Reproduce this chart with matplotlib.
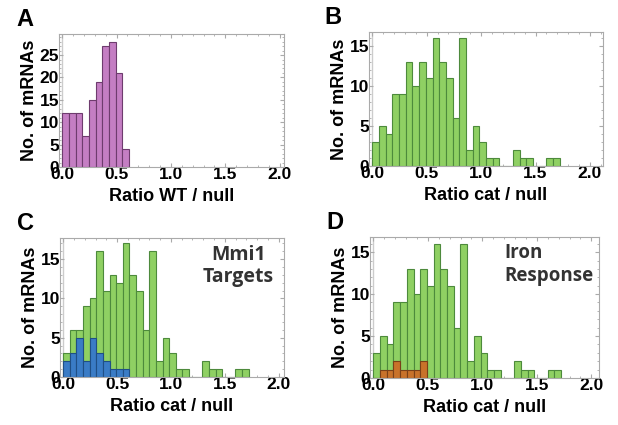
import matplotlib.pyplot as plt
import numpy as np

# bin counts (bins start at 0, equal width)
wt_counts = [12, 12, 12, 7, 15, 19, 27, 28, 21, 4]
cat_counts = [3, 5, 4, 9, 9, 13, 10, 13, 11, 16, 13, 11, 6, 16, 2, 5, 3, 1, 1,
              0, 0, 2, 1, 1, 0, 0, 1, 1]
cat_counts_c = [3, 6, 6, 9, 10, 16, 11, 13, 12, 17, 13, 11, 6, 16, 2, 5, 3, 1, 1,
                0, 0, 2, 1, 1, 0, 0, 1, 1]
mmi1_counts = [2, 3, 5, 2, 5, 3, 2, 1, 1, 1]
iron_counts = [0, 1, 1, 2, 1, 1, 1, 2]

xticks = [0.0, 0.5, 1.0, 1.5, 2.0]
bin_width = 0.0615

purple = '#c47ec3'
purple_edge = '#6e3c6e'
green = '#8fd063'
green_edge = '#4d8a3c'
blue = '#3a7cc6'
blue_edge = '#1f4f85'
orange = '#c8722a'
orange_edge = '#7a4018'

plt.rcParams['font.family'] = ['Liberation Sans', 'DejaVu Sans']

fig = plt.figure(figsize=(6.18, 4.25), dpi=100)
W, H = 618, 425


def make_ax(left, top, right, bottom):
    return fig.add_axes([left / W, 1 - bottom / H, (right - left) / W, (bottom - top) / H])


def hist(ax, counts, color, edge):
    edges = np.arange(len(counts)) * bin_width
    ax.bar(edges, counts, width=bin_width, align='edge', color=color,
           edgecolor=edge, linewidth=0.8, zorder=2)


def style(ax, xmax, ymax, yticks, xlabel, letter):
    ax.set_xlim(-0.03, xmax)
    ax.set_ylim(0, ymax)
    ax.set_xticks(xticks)
    ax.set_xticklabels(['%.1f' % t for t in xticks])
    ax.set_yticks(yticks)
    ax.axvline(0, color='#cccccc', linewidth=1, zorder=1)
    for s in ax.spines.values():
        s.set_color('#aaaaaa')
        s.set_linewidth(0.8)
    ax.minorticks_on()
    ax.tick_params(which='both', direction='in', color='#aaaaaa', top=True, right=True)
    ax.tick_params(which='major', length=3, pad=0, labelsize=12.5)
    ax.tick_params(which='minor', length=1.5)
    for lab in ax.get_xticklabels() + ax.get_yticklabels():
        lab.set_fontweight('bold')
    ax.set_xlabel(xlabel, fontsize=13, fontweight='bold', labelpad=4)
    ax.set_ylabel('No. of mRNAs', fontsize=13, fontweight='bold', labelpad=1)
    ax.text(-0.19, 1.02, letter, transform=ax.transAxes, fontsize=17,
            fontweight='bold', va='bottom', ha='left')


axA = make_ax(59, 34, 284, 167)
hist(axA, wt_counts, purple, purple_edge)
style(axA, 2.04, 29.7, [0, 5, 10, 15, 20, 25], 'Ratio WT / null', 'A')

axB = make_ax(369, 32, 603, 166)
hist(axB, cat_counts, green, green_edge)
style(axB, 2.12, 16.8, [0, 5, 10, 15], 'Ratio cat / null', 'B')

axC = make_ax(60, 238, 284, 377)
hist(axC, cat_counts_c, green, green_edge)
hist(axC, mmi1_counts, blue, blue_edge)
style(axC, 2.05, 17.7, [0, 5, 10, 15], 'Ratio cat / null', 'C')
axC.text(0.795, 0.95, 'Mmi1\nTargets', transform=axC.transAxes, fontsize=14,
         fontweight='bold', color='#333333', ha='center', va='top',
         family=['Open Sans', 'DejaVu Sans'], linespacing=1.15)

axD = make_ax(370, 237, 599, 378)
hist(axD, cat_counts, green, green_edge)
hist(axD, iron_counts, orange, orange_edge)
style(axD, 2.07, 16.8, [0, 5, 10, 15], 'Ratio cat / null', 'D')
axD.text(0.585, 0.955, 'Iron\nResponse', transform=axD.transAxes, fontsize=13.5,
         fontweight='bold', color='#333333', ha='left', va='top',
         family=['Open Sans', 'DejaVu Sans'], linespacing=1.2)

fig.savefig('out.png', dpi=100)
